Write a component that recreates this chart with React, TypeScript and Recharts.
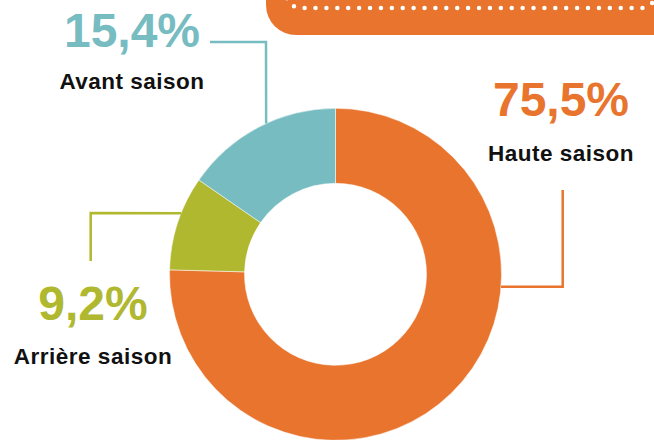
import React from "react";
import { PieChart, Pie, Cell } from "recharts";

const categories = ["Haute saison", "Arrière saison", "Avant saison"];
const shares = [75.5, 9.2, 15.4];
const shareLabels = ["75,5%", "9,2%", "15,4%"];
const colors = ["#E8742D", "#B0B82F", "#76BCC1"];

const data = categories.map((name, i) => ({ name, value: shares[i] }));

// hand-placed callouts: angle on the outer edge, bend points, text spots
const callouts = [
  { angle: -4.3, path: [[562.7, 286.7], [562.7, 190]], x: 561, valueY: 116, nameY: 161 },
  { angle: 158.4, path: [[90.7, 213], [90.7, 261]], x: 93, valueY: 320, nameY: 364 },
  { angle: 114.7, path: [[266, 42], [210, 42]], x: 132, valueY: 47, nameY: 89 },
];

const RAD = Math.PI / 180;

function Callout(props: any) {
  const { cx, cy, outerRadius, index } = props;
  const c = callouts[index];
  const ax = cx + outerRadius * Math.cos(c.angle * RAD);
  const ay = cy - outerRadius * Math.sin(c.angle * RAD);
  const pts = [[ax, ay], ...c.path].map((p) => p.join(",")).join(" ");
  return (
    <g>
      <polyline points={pts} fill="none" stroke={colors[index]} strokeWidth={2.5} />
      <text
        x={c.x}
        y={c.valueY}
        textAnchor="middle"
        fill={colors[index]}
        fontFamily="'Liberation Sans', Arial, sans-serif"
        fontWeight={700}
        fontSize={48}
      >
        {shareLabels[index]}
      </text>
      <text
        x={c.x}
        y={c.nameY}
        textAnchor="middle"
        fill="#111"
        fontFamily="'Liberation Sans', Arial, sans-serif"
        fontWeight={700}
        fontSize={22.5}
        letterSpacing={0.5}
      >
        {categories[index]}
      </text>
    </g>
  );
}

export default function App() {
  return (
    <div style={{ position: "absolute", left: 0, top: 0, width: 654, height: 440, background: "#fff" }}>
      <svg width={654} height={440} style={{ position: "absolute", left: 0, top: 0 }}>
        <rect x={266} y={-60} width={440} height={95} rx={30} fill="#E8742D" />
        <rect
          x={286}
          y={-40}
          width={370}
          height={48}
          rx={15}
          fill="none"
          stroke="#fff"
          strokeWidth={4.5}
          strokeLinecap="round"
          strokeDasharray="0 10.9"
        />
      </svg>
      <div style={{ position: "absolute", left: 0, top: 0 }}>
        <PieChart width={654} height={440} margin={{ top: 0, right: 0, bottom: 0, left: 0 }}>
          <Pie
            data={data}
            dataKey="value"
            nameKey="name"
            cx={335.5}
            cy={274.3}
            innerRadius={91}
            outerRadius={166}
            startAngle={90}
            endAngle={-270}
            stroke="#fff"
            strokeWidth={0.5}
            label={Callout}
            labelLine={false}
            isAnimationActive={false}
          >
            {data.map((d, i) => (
              <Cell key={d.name} fill={colors[i]} />
            ))}
          </Pie>
        </PieChart>
      </div>
    </div>
  );
}
